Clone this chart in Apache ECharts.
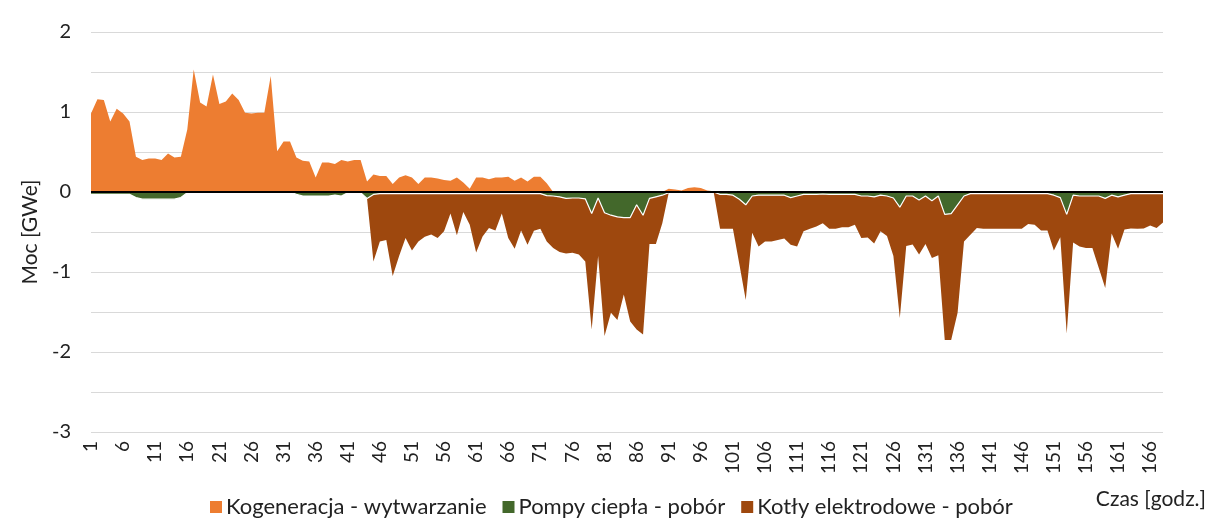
<!DOCTYPE html>
<html>
<head>
<meta charset="utf-8">
<script src="https://cdn.jsdelivr.net/npm/echarts@6/dist/echarts.min.js"></script>
<style>
  html, body { margin: 0; padding: 0; background: #fff; }
  #chart { width: 1210px; height: 518px; }
</style>
</head>
<body>
<div id="chart"></div>
<script>
// godziny 1..168
var hours = [];
for (var h = 1; h <= 168; h++) hours.push(String(h));

var seriesNames = ['Kogeneracja - wytwarzanie', 'Pompy ciepła - pobór', 'Kotły elektrodowe - pobór'];

// Kogeneracja - wytwarzanie [GWe]
var kogeneracja = [
  0.98, 1.16, 1.15, 0.88, 1.04, 0.98, 0.88, 0.44, 0.40, 0.42,
  0.42, 0.40, 0.48, 0.43, 0.44, 0.78, 1.53, 1.12, 1.07, 1.47,
  1.10, 1.13, 1.23, 1.15, 0.99, 0.98, 0.99, 0.99, 1.45, 0.51,
  0.63, 0.63, 0.43, 0.39, 0.38, 0.18, 0.37, 0.37, 0.35, 0.40,
  0.38, 0.40, 0.40, 0.13, 0.22, 0.20, 0.20, 0.10, 0.18, 0.21,
  0.18, 0.10, 0.18, 0.18, 0.17, 0.15, 0.14, 0.18, 0.12, 0.04,
  0.18, 0.18, 0.16, 0.18, 0.18, 0.19, 0.14, 0.18, 0.13, 0.19,
  0.19, 0.11, 0, 0, 0, 0, 0, 0, 0, 0,
  0.01, 0, 0, 0, 0.01, 0, 0, 0, 0, 0,
  0.04, 0.03, 0.02, 0.05, 0.06, 0.05, 0.02, 0.01, 0, 0,
  0, 0, 0, 0, 0, 0, 0, 0, 0, 0,
  0, 0, 0, 0, 0, 0, 0, 0, 0, 0,
  0, 0, 0, 0, 0, 0, 0, 0, 0, 0,
  0, 0, 0, 0, 0, 0, 0, 0, 0, 0,
  0, 0, 0, 0, 0, 0, 0, 0, 0, 0,
  0, 0, 0, 0, 0, 0, 0, 0, 0, 0,
  0, 0, 0, 0, 0, 0, 0, 0
];

// Pompy ciepła - pobór [GWe]
var pompy = [
  -0.03, -0.03, -0.03, -0.03, -0.03, -0.03, -0.03, -0.07, -0.09, -0.09,
  -0.09, -0.09, -0.09, -0.09, -0.07, -0.01, 0, 0, 0, 0,
  0, 0, 0, 0, 0, 0, 0, 0, 0, -0.01,
  0, 0, -0.03, -0.05, -0.05, -0.05, -0.05, -0.05, -0.04, -0.05,
  -0.01, -0.01, -0.01, -0.08, -0.03, -0.02, -0.02, -0.02, -0.02, -0.02,
  -0.02, -0.02, -0.02, -0.02, -0.02, -0.02, -0.02, -0.02, -0.02, -0.02,
  -0.02, -0.02, -0.02, -0.02, -0.02, -0.02, -0.02, -0.02, -0.02, -0.02,
  -0.02, -0.045, -0.05, -0.06, -0.08, -0.075, -0.075, -0.085, -0.27, -0.075,
  -0.26, -0.29, -0.31, -0.32, -0.32, -0.16, -0.29, -0.08, -0.06, -0.04,
  -0.01, 0, 0, 0, 0, 0, 0, 0, -0.03, -0.03,
  -0.04, -0.09, -0.16, -0.05, -0.04, -0.04, -0.04, -0.04, -0.04, -0.07,
  -0.05, -0.03, -0.03, -0.03, -0.025, -0.03, -0.03, -0.03, -0.03, -0.03,
  -0.05, -0.05, -0.06, -0.04, -0.05, -0.075, -0.19, -0.05, -0.05, -0.10,
  -0.05, -0.11, -0.05, -0.28, -0.27, -0.16, -0.05, -0.02, -0.02, -0.02,
  -0.02, -0.02, -0.02, -0.02, -0.02, -0.02, -0.02, -0.02, -0.02, -0.02,
  -0.04, -0.07, -0.28, -0.04, -0.05, -0.05, -0.05, -0.05, -0.08, -0.04,
  -0.06, -0.04, -0.02, -0.02, -0.02, -0.02, -0.02, -0.02
];

// Kotły elektrodowe - pobór [GWe]
var kotly = [
  0, 0, 0, 0, 0, 0, 0, 0, 0, 0,
  0, 0, 0, 0, 0, 0, 0, 0, 0, 0,
  0, 0, 0, 0, 0, 0, 0, 0, 0, 0,
  0, 0, 0, 0, 0, 0, 0, 0, 0, 0,
  0, 0, 0, 0, -0.84, -0.60, -0.58, -1.03, -0.78, -0.555,
  -0.71, -0.60, -0.54, -0.51, -0.555, -0.47, -0.25, -0.52, -0.23, -0.39,
  -0.735, -0.535, -0.43, -0.46, -0.25, -0.555, -0.69, -0.46, -0.64, -0.465,
  -0.44, -0.575, -0.65, -0.69, -0.69, -0.685, -0.705, -0.785, -1.45, -0.725,
  -1.54, -1.22, -1.29, -0.96, -1.30, -1.56, -1.49, -0.57, -0.59, -0.35,
  0, 0, 0, 0, 0, 0, 0, 0, -0.43, -0.43,
  -0.42, -0.81, -1.19, -0.46, -0.64, -0.58, -0.58, -0.56, -0.54, -0.59,
  -0.63, -0.46, -0.43, -0.40, -0.365, -0.43, -0.43, -0.41, -0.41, -0.38,
  -0.525, -0.52, -0.585, -0.45, -0.50, -0.725, -1.385, -0.625, -0.605, -0.68,
  -0.60, -0.715, -0.74, -1.57, -1.58, -1.35, -0.57, -0.515, -0.43, -0.44,
  -0.44, -0.44, -0.44, -0.44, -0.44, -0.44, -0.38, -0.39, -0.46, -0.46,
  -0.69, -0.495, -1.49, -0.59, -0.63, -0.65, -0.65, -0.90, -1.12, -0.48,
  -0.65, -0.43, -0.435, -0.44, -0.435, -0.40, -0.43, -0.36
];

var colors = ['#ED7D31', '#43682B', '#9E480E'];
var FONT = 'Lato';

var chart = echarts.init(document.getElementById('chart'), null, { renderer: 'canvas' });

var option = {
  animation: false,
  color: colors,
  textStyle: { fontFamily: FONT, color: '#222' },
  grid: { left: 91, right: 47, top: 32, bottom: 86 },
  legend: {
    data: seriesNames,
    bottom: 0,
    left: 205,
    padding: [0, 5, 0, 5],
    itemWidth: 12,
    itemHeight: 12,
    itemGap: 16,
    icon: 'rect',
    textStyle: { fontSize: 22, fontFamily: FONT, color: '#222', padding: [0, 0, 0, -1] }
  },
  xAxis: {
    type: 'category',
    data: hours,
    boundaryGap: false,
    axisLine: { show: false },
    axisTick: { show: false },
    axisLabel: { interval: 4, rotate: 90, fontSize: 19, margin: 9, color: '#222', fontFamily: FONT },
    splitLine: { show: false }
  },
  yAxis: {
    type: 'value',
    min: -3,
    max: 2,
    interval: 0.5,
    name: 'Moc [GWe]',
    nameLocation: 'middle',
    nameGap: 50,
    nameTextStyle: { fontSize: 21, color: '#222', fontFamily: FONT },
    axisLine: { show: false },
    axisTick: { show: false },
    axisLabel: {
      fontSize: 20,
      margin: 20,
      color: '#222',
      fontFamily: FONT,
      formatter: function (v) {
        // tylko pełne wartości
        return Number.isInteger(v) ? String(v) : '';
      }
    },
    splitLine: { lineStyle: { color: '#D9D9D9', width: 1 } }
  },
  graphic: [{
    type: 'text',
    right: 4,
    top: 489,
    style: { text: 'Czas [godz.]', fontSize: 21, fontFamily: FONT, fill: '#222' }
  }],
  series: [
    {
      name: seriesNames[0],
      type: 'line',
      data: kogeneracja,
      showSymbol: false,
      lineStyle: { width: 0 },
      areaStyle: { color: colors[0], opacity: 1 },
      z: 4,
      markLine: {
        silent: true,
        symbol: 'none',
        label: { show: false },
        lineStyle: { color: '#000', width: 2, type: 'solid' },
        data: [{ yAxis: 0 }]
      }
    },
    {
      name: seriesNames[1],
      type: 'line',
      stack: 'pobor',
      data: pompy,
      showSymbol: false,
      lineStyle: { width: 1.2, color: '#fff' },
      areaStyle: { color: colors[1], opacity: 1 },
      z: 3
    },
    {
      name: seriesNames[2],
      type: 'line',
      stack: 'pobor',
      data: kotly,
      showSymbol: false,
      lineStyle: { width: 0 },
      areaStyle: { color: colors[2], opacity: 1 },
      z: 2
    }
  ]
};

chart.setOption(option);
</script>
</body>
</html>
